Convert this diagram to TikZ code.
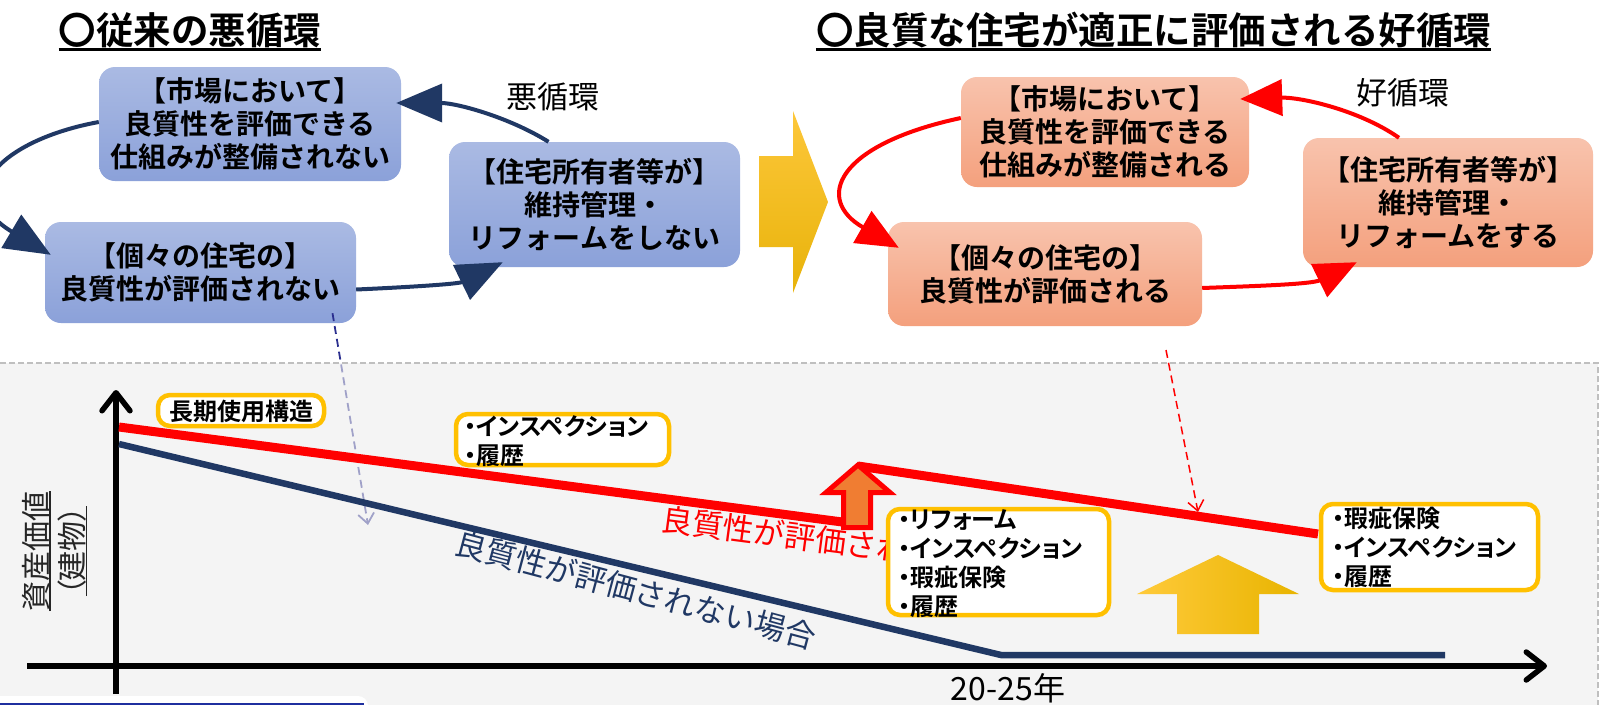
\documentclass[tikz,border=0pt]{standalone}
\usepackage{fontspec}
\setmainfont{Noto Sans CJK JP}[BoldFont={Noto Sans CJK JP Bold}]
\newfontfamily\jpp{Noto Sans CJK JP}[RawFeature=+palt,BoldFont={Noto Sans CJK JP Bold}]
\usetikzlibrary{arrows.meta,calc}
\definecolor{navy}{HTML}{203864}
\definecolor{dnavy}{HTML}{2B2F8F}
\definecolor{bluetop}{HTML}{AABAE3}
\definecolor{bluebot}{HTML}{8BA1D9}
\definecolor{orgtop}{HTML}{F8C3AD}
\definecolor{orgbot}{HTML}{F4A07D}
\definecolor{kyellow}{HTML}{FFC000}
\definecolor{panelgray}{HTML}{EEEEEE}
\definecolor{dashgray}{HTML}{BFBFBF}
\definecolor{arrorange}{HTML}{F07D32}
\definecolor{chevtop}{HTML}{FDC73A}
\definecolor{chevmid}{HTML}{FFC000}
\definecolor{chevbot}{HTML}{E8B30A}
\definecolor{upleft}{HTML}{FFCA3A}
\definecolor{upright}{HTML}{E8B400}
\definecolor{stripblue}{HTML}{1F2F9F}
\tikzset{
  titletext/.style={font=\bfseries\fontsize{37.5}{37.5}\selectfont, inner sep=0pt},
  cyclebox/.style={rounded corners=16pt, draw=none, align=center, inner sep=0pt,
    font=\bfseries\fontsize{28}{33}\selectfont},
  bluebox/.style={cyclebox, top color=bluetop, bottom color=bluebot},
  orangebox/.style={cyclebox, top color=orgtop, bottom color=orgbot},
  cyclelabel/.style={font=\fontsize{31}{31}\selectfont, inner sep=0pt},
  navyarrow/.style={draw=navy, line width=4pt, -{Triangle[length=46pt,width=38pt]}},
  redarrow/.style={draw=red, line width=4pt, -{Triangle[length=42pt,width=36pt]}},
  kbox/.style={draw=kyellow, line width=4.5pt, fill=white, rounded corners=12pt, inner sep=0pt},
  ktext/.style={font=\jpp\bfseries\fontsize{24}{29}\selectfont, align=left, inner sep=0pt, anchor=west},
  axis/.style={line width=5.5pt, -{Straight Barb[length=18pt,width=28pt,round]}},
  linelabel/.style={font=\fontsize{31}{31}\selectfont, inner sep=0pt},
  dasharrow/.style={line width=1.8pt, dash pattern=on 8pt off 5pt, -{Straight Barb[length=10pt,width=16pt]}}
}
\begin{document}
\begin{tikzpicture}[x=1pt,y=-1pt]
\useasboundingbox (0,0) rectangle (1600,705);
\fill[white] (0,0) rectangle (1600,705);

% titles
\node[titletext] (t1) at (190,30) {〇従来の悪循環};
\node[titletext] (t2) at (1153.5,30) {〇良質な住宅が適正に評価される好循環};
\draw[line width=2.5pt] ($(t1.south west)+(0,1.5)$) -- ($(t1.south east)+(0,1.5)$);
\draw[line width=2.5pt] ($(t2.south west)+(0,1.5)$) -- ($(t2.south east)+(0,1.5)$);

% left cycle
\node[bluebox, minimum width=302pt, minimum height=114pt] (a1) at (250,124) {【市場において】\\良質性を評価できる\\仕組みが整備されない};
\node[bluebox, minimum width=311pt, minimum height=101pt] (b1) at (200.5,272.5) {【個々の住宅の】\\良質性が評価されない};
\node[bluebox, minimum width=291pt, minimum height=125pt] (c1) at (594.5,204.5) {【住宅所有者等が】\\維持管理・\\リフォームをしない};
\node[cyclelabel] (lab1) at (553,97) {悪循環};
\draw[navyarrow] ($(c1.north)+(-46,0)$) .. controls +(-40,-25) and +(60,0) .. ($(a1.east)+(-5,-21)$);
\draw[navyarrow] ($(a1.west)+(0,-2)$) .. controls +(-98,18) and +(-101,-60) .. ($(b1.north west)+(6,33)$);
\draw[navyarrow] ($(b1.east)+(0,17)$) .. controls +(45,-2) and +(-45,22) .. ($(c1.south west)+(54,-5)$);

% chevron
\shade[top color=chevtop, middle color=chevmid, bottom color=chevbot]
  (759,156) -- (793,156) -- (793,111) -- (828,202) -- (793,293) -- (793,247) -- (759,247) -- cycle;

% right cycle
\node[orangebox, minimum width=288pt, minimum height=110pt] (d1) at (1105,132) {【市場において】\\良質性を評価できる\\仕組みが整備される};
\node[orangebox, minimum width=314pt, minimum height=104pt] (e1) at (1045,274) {【個々の住宅の】\\良質性が評価される};
\node[orangebox, minimum width=290pt, minimum height=129pt] (f1) at (1448,202.5) {【住宅所有者等が】\\維持管理・\\リフォームをする};
\node[cyclelabel] (lab2) at (1403,93) {好循環};
\draw[redarrow] ($(f1.north)+(-49,0)$) .. controls +(-40,-28) and +(60,-2) .. ($(d1.east)+(-9,-33)$);
\draw[redarrow] ($(d1.west)+(0,-14)$) .. controls +(-126,27) and +(-84,-48) .. ($(e1.north west)+(11,26)$);
\draw[redarrow] ($(e1.east)+(0,14)$) .. controls +(55,-2) and +(-45,22) .. ($(f1.south west)+(54,-5)$);

% navy dashed arrow (faded by the panel)
\coordinate (nd) at (368,525);
\draw[dasharrow, draw=dnavy] ($(b1.south)+(132,-10)$) -- (nd);

% panel
\fill[panelgray, opacity=0.6] (0,363) rectangle (1598,705);
\draw[dashgray, line width=1.5pt, dash pattern=on 6pt off 3pt] (0,363) -- (1598,363) -- (1598,705);

% axes
\coordinate (yb) at (116,694);
\coordinate (yt) at (116,390);
\coordinate (xl0) at (27,666);
\coordinate (xr) at (1547,666);
\draw[axis] (yb) -- (yt);
\draw[axis] (xl0) -- (xr);

% value lines
\coordinate (r0) at (119,427);
\coordinate (r1) at (850,523);
\coordinate (r2) at (858,466);
\coordinate (r3) at (1318,534);
\coordinate (n0) at (119,444);
\coordinate (n1) at (1001,655);
\coordinate (n2) at (1445,655);
\draw[navy, line width=6.5pt] (n0) -- (n1) -- (n2);
\draw[red, line width=9pt] (r0) -- (r1);
\draw[red, line width=9pt] (r2) -- (r3);

% line labels
\node[linelabel, text=navy, rotate=-15] (nl) at (636,590) {良質性が評価されない場合};
\node[linelabel, text=red, rotate=-7.5] (rl) at (785,535) {良質性が評価され};

% red up arrow
\filldraw[draw=red, fill=arrorange, line width=5pt, line join=miter]
  (858,465) -- (890,492.5) -- (870.5,492.5) -- (870.5,527.5) -- (843.5,527.5) -- (843.5,492.5) -- (826,492.5) -- cycle;

% big yellow arrow
\shade[left color=upleft, right color=upright]
  (1218,555) -- (1299,594) -- (1259,594) -- (1259,634) -- (1177,634) -- (1177,594) -- (1137,594) -- cycle;

% yellow boxes
\node[kbox, minimum width=166pt, minimum height=31pt] (k1) at (241,410.5) {};
\node[font=\bfseries\fontsize{24}{24}\selectfont, inner sep=0pt] (k1t) at (241,411) {長期使用構造};
\node[kbox, minimum width=213pt, minimum height=51pt] (k2) at (562.5,439.5) {};
\node[ktext] (k2t) at (464,441) {・インスペクション\\・履歴};
\node[kbox, minimum width=221pt, minimum height=106pt] (k3) at (998.5,562) {};
\node[ktext] (k3t) at (898,564) {・リフォーム\\・インスペクション\\・瑕疵保険\\・履歴};
\node[kbox, minimum width=217pt, minimum height=86pt] (k4) at (1429.5,547) {};
\node[ktext] (k4t) at (1332,547) {・瑕疵保険\\・インスペクション\\・履歴};

% red dashed arrow
\coordinate (rds) at (1166,350);
\coordinate (rde) at (1198,512);
\draw[dasharrow, draw=red, line width=1.5pt] (rds) -- (rde);

% y label
\node[rotate=90, font=\fontsize{30}{30}\selectfont, text=black!85, inner sep=0pt] (yl1) at (36,551) {資産価値};
\node[rotate=90, font=\jpp\fontsize{30}{30}\selectfont, text=black!85, inner sep=0pt] (yl2) at (72,551) {（建物）};
\draw[line width=1.3pt, black!85] (yl1.south west) -- (yl1.south east);
\draw[line width=1.3pt, black!85] (yl2.south west) -- (yl2.south east);

% x label
\node[font=\fontsize{32}{32}\selectfont, anchor=base, inner sep=0pt] (xlab) at (1008,700) {20-25年};

% bottom strip of a cut-off box
\fill[white, rounded corners=10pt] (-10,696) rectangle (368,730);
\draw[stripblue, line width=2pt] (0,703.5) -- (364,703.5);
\end{tikzpicture}
\end{document}
